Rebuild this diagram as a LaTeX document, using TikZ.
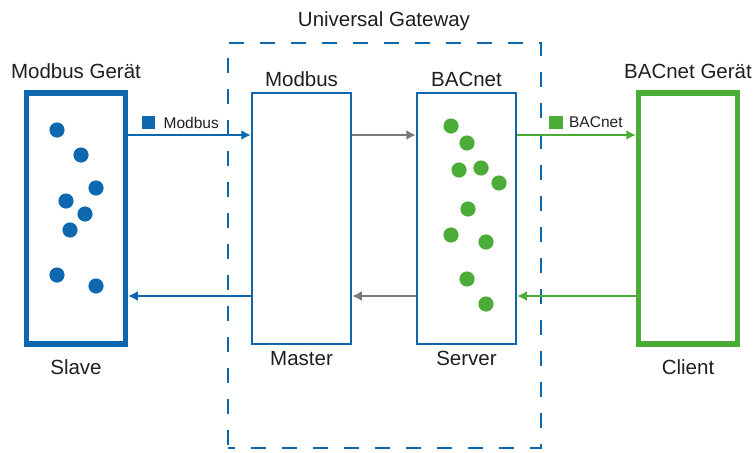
\documentclass[tikz,border=0pt]{standalone}
\usepackage{fontspec}
\setmainfont{Liberation Sans}
\usetikzlibrary{arrows.meta,positioning}
\definecolor{mbblue}{RGB}{14,104,176}
\definecolor{bacgreen}{RGB}{76,172,56}
\definecolor{midgray}{RGB}{122,122,122}

\begin{document}
\begin{tikzpicture}[
  x=1pt, y=-1pt,
  font=\fontsize{20.5}{24}\selectfont,
  devbox/.style={draw, line width=5.5pt, minimum width=99pt, minimum height=251pt, inner sep=0pt},
  gwbox/.style={draw=mbblue, line width=2.5pt, minimum width=99pt, minimum height=251pt, inner sep=0pt},
  gateway/.style={draw=mbblue, line width=2.5pt, dash pattern=on 15pt off 16pt, dash phase=8pt, minimum width=313pt, minimum height=405pt, inner sep=0pt},
  lbl/.style={anchor=base, inner sep=0pt, text=black!88},
  tag/.style={font=\fontsize{15.5}{18}\selectfont, inner sep=0pt, anchor=west, text=black!88},
  swatch/.style={minimum size=13.5pt, inner sep=0pt},
  link/.style={line width=2.5pt, -{Latex[length=9.5pt,width=10pt]}}
]
\useasboundingbox (0,0) rectangle (754,452);

% gateway frame
\node[gateway] (gw) at (384.5,245.5) {};
\node[lbl] (gwname) at (384,26.7) {Universal Gateway};

% boxes
\node[devbox, draw=mbblue] (slave) at (76,218.5) {};
\node[gwbox] (master) at (301.5,218.5) {};
\node[gwbox] (server) at (466.5,218.5) {};
\node[devbox, draw=bacgreen] (client) at (688,218.5) {};

% titles
\node[lbl] (slavetop) at (76,78.3) {Modbus Gerät};
\node[lbl] (mastertop) at (301.5,86) {Modbus};
\node[lbl] (servertop) at (466.5,86) {BACnet};
\node[lbl] (clienttop) at (688,78.3) {BACnet Gerät};

\node[lbl] (slavebot) at (76,374) {Slave};
\node[lbl] (masterbot) at (301.5,365) {Master};
\node[lbl] (serverbot) at (466.5,365) {Server};
\node[lbl] (clientbot) at (688,374) {Client};

% data points
\foreach \px/\py in {57/130, 81/155, 96/188, 66/201, 85/214, 70/230, 57/275, 96/286}
  \fill[mbblue] (\px,\py) circle (7.6pt);
\foreach \px/\py in {451/126, 467/143, 459/170, 481/168, 499/183, 468/209, 451/235, 486/242, 467/279, 486/304}
  \fill[bacgreen] (\px,\py) circle (7.6pt);

% rails
\coordinate (up) at (0,135);
\coordinate (down) at (0,296);

\draw[link, mbblue] (slave.east |- up) -- (master.west |- up);
\draw[link, midgray] (master.east |- up) -- (server.west |- up);
\draw[link, bacgreen] (server.east |- up) -- (client.west |- up);

\draw[link, mbblue] (master.west |- down) -- (slave.east |- down);
\draw[link, midgray] (server.west |- down) -- (master.east |- down);
\draw[link, bacgreen] (client.west |- down) -- (server.east |- down);

% protocol tags
\node[swatch, fill=mbblue] (mbsq) at (148.5,122.5) {};
\node[tag, right=8pt of mbsq] (mbtag) {Modbus};
\node[swatch, fill=bacgreen] (bacsq) at (556,122.5) {};
\node[tag, right=6pt of bacsq] (bactag) {BACnet};
\end{tikzpicture}
\end{document}
